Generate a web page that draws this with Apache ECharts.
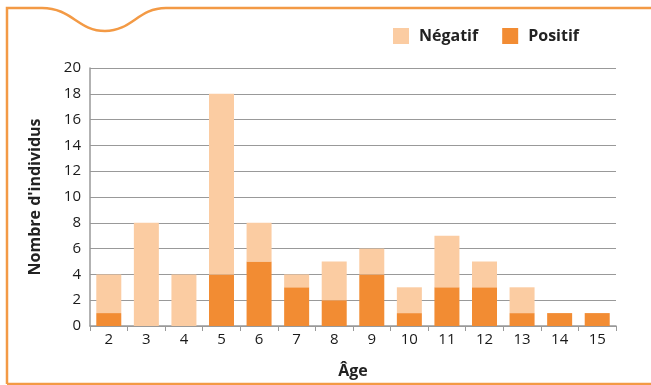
<!DOCTYPE html>
<html>
<head>
<meta charset="utf-8">
<style>html,body{margin:0;padding:0;background:#fff;}#c{width:651px;height:385px;}</style>
<script src="https://cdn.jsdelivr.net/npm/echarts@6/dist/echarts.min.js"></script>
</head>
<body>
<div id="c"></div>
<script>
var ages = ['2','3','4','5','6','7','8','9','10','11','12','13','14','15'];
var positif = [1,0,0,4,5,3,2,4,1,3,3,1,1,1];
var negatif = [3,8,4,14,3,1,3,2,2,4,2,2,0,0];
var yTicks = [0,2,4,6,8,10,12,14,16,18,20];

var chart = echarts.init(document.getElementById('c'));
var font = '"Open Sans", "Noto Sans", sans-serif';
var border = {stroke: '#F39A45', lineWidth: 2.5, fill: null};
chart.setOption({
  animation: false,
  textStyle: {fontFamily: font},
  grid: {left: 90, right: 35, top: 68, bottom: 59},
  legend: {
    data: ['Négatif', 'Positif'],
    top: 23, left: 388,
    itemWidth: 16, itemHeight: 16, itemGap: 24,
    icon: 'rect',
    textStyle: {fontFamily: font, fontSize: 16, fontWeight: 'bold', color: '#222', padding: [0,0,0,5]}
  },
  xAxis: {
    type: 'category',
    data: ages,
    name: 'Âge',
    nameLocation: 'middle',
    nameGap: 37,
    nameTextStyle: {fontFamily: font, fontSize: 16, fontWeight: 'bold', color: '#222'},
    axisLine: {lineStyle: {color: '#999', width: 1.5}},
    axisTick: {show: true, alignWithLabel: false, length: 5, lineStyle: {color: '#999'}},
    axisLabel: {fontFamily: font, fontSize: 15, color: '#1a1a1a', margin: 6}
  },
  yAxis: {
    type: 'value',
    min: 0, max: 20, interval: 2,
    name: "Nombre d'individus",
    nameLocation: 'middle',
    nameGap: 47,
    nameTextStyle: {fontFamily: font, fontSize: 16, fontWeight: 'bold', color: '#222'},
    axisLine: {show: true, lineStyle: {color: '#999', width: 1.5}},
    axisTick: {show: false},
    splitLine: {lineStyle: {color: '#999', width: 1.2}},
    axisLabel: {fontFamily: font, fontSize: 15, color: '#1a1a1a', margin: 9,
      formatter: function (v) { return yTicks.indexOf(v) >= 0 ? String(v) : ''; }}
  },
  series: [
    {name: 'Positif', type: 'bar', stack: 't', data: positif, barWidth: 25,
      itemStyle: {color: '#F28C33'}},
    {name: 'Négatif', type: 'bar', stack: 't', data: negatif, barWidth: 25,
      itemStyle: {color: '#FBCCA2'}}
  ],
  graphic: [
    {type: 'polyline', silent: true, shape: {points: [[7,384],[7,8],[42,8]]}, style: border},
    {type: 'bezierCurve', silent: true,
      shape: {x1: 42, y1: 8, cpx1: 72, cpy1: 8, cpx2: 78, cpy2: 31, x2: 105, y2: 31}, style: border},
    {type: 'bezierCurve', silent: true,
      shape: {x1: 105, y1: 31, cpx1: 132, cpy1: 31, cpx2: 138, cpy2: 8, x2: 166, y2: 8}, style: border},
    {type: 'line', silent: true, shape: {x1: 166, y1: 8, x2: 651, y2: 8}, style: border},
    {type: 'line', silent: true, shape: {x1: 7, y1: 384, x2: 651, y2: 384}, style: border}
  ]
});
</script>
</body>
</html>
